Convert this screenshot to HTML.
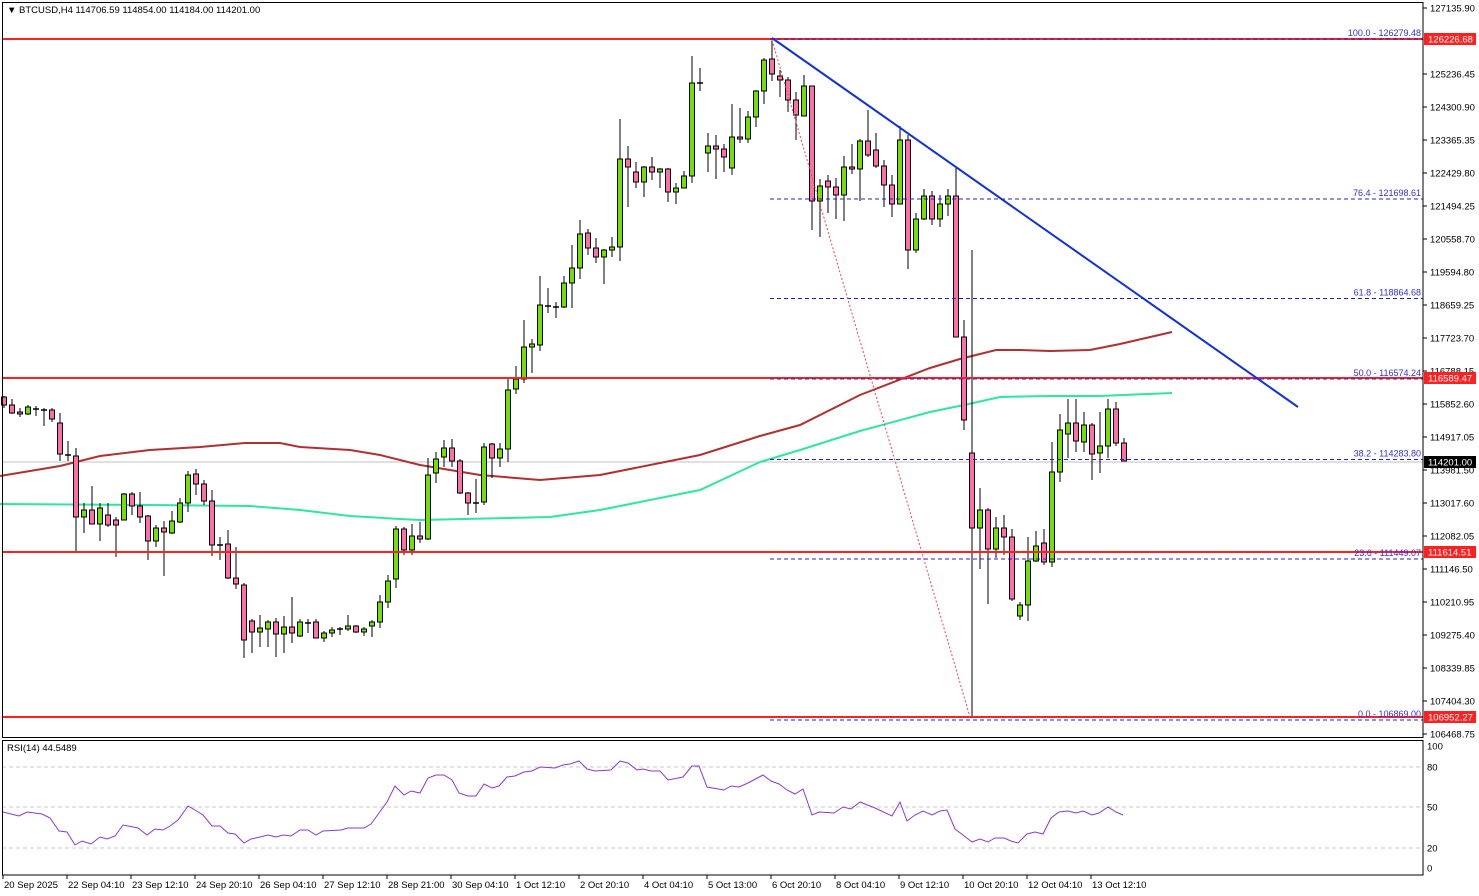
<!DOCTYPE html>
<html><head><meta charset="utf-8"><style>
html,body{margin:0;padding:0;background:#fff;}
svg{display:block;font-family:"Liberation Sans",sans-serif;}
</style></head><body>
<svg id="s" width="1479" height="896" viewBox="0 0 1479 896" xmlns="http://www.w3.org/2000/svg">
<rect width="1479" height="896" fill="#fff"/>
<g id="bg"></g>
<g id="c"></g>
<g id="fg"></g>
</svg>
<script>
const NS="http://www.w3.org/2000/svg";
function el(p,t,a,txt){const e=document.createElementNS(NS,t);for(const k in a)e.setAttribute(k,a[k]);if(txt!==undefined)e.textContent=txt;document.getElementById(p).appendChild(e);return e;}
// candles: [bodyTop, bodyBot, wickTop, wickBot, type]
const C=[
[397,405,396,408,'r'],[405,413,399,414,'r'],[412,414,408,417,'r'],[407,414,405,415,'g'],[409,409,406,416,'d'],
[410,410,408,426,'d'],[410,419,408,422,'r'],[423,454,413,461,'r'],[455,455,441,461,'d'],[456,517,448,552,'r'],
[510,517,503,533,'g'],[510,524,486,524,'r'],[508,524,503,541,'g'],[515,525,503,527,'r'],[520,525,517,557,'r'],
[494,520,493,520,'g'],[494,506,492,515,'r'],[506,517,492,523,'r'],[516,541,515,560,'r'],[528,541,525,547,'g'],
[528,532,521,576,'r'],[521,533,511,534,'g'],[503,522,498,523,'g'],[475,503,471,512,'g'],[474,484,469,495,'r'],
[484,501,480,505,'r'],[501,545,490,556,'r'],[545,545,537,560,'d'],[544,578,530,579,'r'],[578,584,547,589,'r'],
[585,640,583,658,'r'],[621,632,619,653,'r'],[628,632,615,647,'g'],[622,629,620,647,'g'],[622,634,618,657,'r'],
[627,634,616,653,'g'],[627,633,597,643,'r'],[622,636,619,637,'g'],[623,623,619,633,'d'],[622,638,619,638,'r'],
[633,638,631,642,'g'],[630,633,627,637,'g'],[629,629,627,635,'d'],[626,629,615,631,'g'],[626,632,625,633,'r'],
[629,632,627,636,'g'],[622,626,620,637,'g'],[602,622,595,628,'g'],[581,602,575,608,'g'],[529,579,526,588,'g'],
[529,550,527,555,'r'],[536,550,524,555,'g'],[536,539,522,543,'r'],[475,539,458,540,'g'],[459,473,452,483,'g'],
[448,457,440,467,'g'],[448,461,439,467,'r'],[461,493,459,494,'r'],[493,503,492,515,'r'],[503,503,479,513,'d'],
[447,502,443,505,'g'],[444,458,443,478,'r'],[449,458,443,467,'g'],[390,449,379,462,'g'],[379,389,366,394,'g'],
[347,379,320,383,'g'],[344,347,339,373,'g'],[305,345,276,351,'g'],[306,306,288,313,'d'],[307,307,302,318,'d'],
[283,307,276,308,'g'],[268,283,245,308,'g'],[234,268,220,279,'g'],[233,248,229,255,'r'],[248,257,238,263,'r'],
[250,257,249,284,'g'],[247,250,237,257,'g'],[159,247,119,261,'g'],[159,167,146,207,'r'],[172,182,162,188,'r'],
[167,182,166,197,'g'],[167,172,157,180,'r'],[169,172,168,188,'g'],[169,192,168,202,'r'],[188,192,183,204,'g'],
[176,188,171,188,'g'],[83,176,56,183,'g'],[83,83,68,91,'d'],[146,153,133,172,'g'],[146,149,135,179,'r'],
[149,157,144,172,'r'],[137,168,104,175,'g'],[137,139,108,143,'r'],[117,139,111,143,'g'],[91,117,90,127,'g'],
[60,91,58,104,'g'],[59,74,38,81,'r'],[76,80,70,97,'r'],[80,100,77,112,'r'],[100,115,92,140,'r'],
[86,116,75,116,'g'],[86,201,86,230,'r'],[186,201,179,237,'g'],[181,187,175,213,'r'],[187,195,178,219,'r'],
[167,195,156,221,'g'],[167,169,144,174,'r'],[141,169,139,201,'g'],[141,155,110,157,'r'],[150,166,133,168,'r'],
[166,185,160,207,'r'],[185,204,175,217,'r'],[140,204,126,204,'g'],[140,250,135,269,'r'],[219,250,213,253,'g'],
[196,219,189,220,'g'],[196,219,191,225,'r'],[204,219,195,227,'g'],[196,204,189,216,'g'],[196,337,167,337,'r'],
[337,420,320,430,'r'],[453,528,250,717,'r'],[510,528,488,569,'g'],[510,549,508,604,'r'],[528,549,517,558,'g'],
[528,537,515,555,'r'],[537,599,529,601,'r'],[605,616,602,620,'g'],[561,605,537,621,'g'],[546,561,531,562,'g'],
[543,562,529,565,'r'],[472,562,442,567,'g'],[430,472,414,482,'g'],[423,434,399,458,'g'],[423,441,399,452,'r'],
[425,442,412,452,'g'],[425,454,423,480,'r'],[446,453,412,473,'g'],[409,446,399,458,'g'],[409,443,402,446,'r'],
[443,461,438,461,'r']
];
// background lines
el('bg','line',{x1:2,y1:462,x2:1423,y2:462,stroke:'#c0c0c0','stroke-width':1});
// RSI grid
[767,807,848].forEach(y=>el('bg','line',{x1:2,y1:y,x2:1423,y2:y,stroke:'#c8c8c8','stroke-dasharray':'4,3','stroke-width':1}));
// MAs
el('bg','polyline',{points:'0,476 60,466 100,456 150,450 200,447 245,443 280,443 300,447 350,450 380,455 420,465 480,475 540,480 600,475 700,455 760,436 800,425 860,395 930,368 960,359 996,350 1020,350 1050,351 1090,350 1120,344 1172,332',fill:'none',stroke:'#b03030','stroke-width':2});
el('bg','polyline',{points:'0,504 150,505 250,506 300,510 350,516 400,519 420,520 550,517 600,510 700,490 760,462 800,450 860,431 930,412 964,405 1000,397 1050,396 1100,396 1172,393',fill:'none',stroke:'#2ee89a','stroke-width':2});
// candles
C.forEach((c,i)=>{
 const x=4+8*i;
 el('c','line',{x1:x,y1:c[2],x2:x,y2:c[3],stroke:'#000','stroke-width':1});
 if(c[4]==='d'){el('c','line',{x1:x-3,y1:c[0],x2:x+3,y2:c[0],stroke:'#000','stroke-width':1.5});}
 else{el('c','rect',{x:x-2.5,y:c[0],width:5,height:Math.max(1,c[1]-c[0]),fill:c[4]==='g'?'#74e000':'#ff6eaa',stroke:'#000','stroke-width':1});}
});
// red horizontal lines
[39,378,552,717].forEach(y=>el('fg','line',{x1:2,y1:y,x2:1423,y2:y,stroke:'#ff2020','stroke-width':2}));
// fib
const fib=[[39,'100.0 - 126279.48'],[199,'76.4 - 121698.61'],[298.5,'61.8 - 118864.68'],[379,'50.0 - 116574.24'],[459.5,'38.2 - 114283.80'],[559,'23.6 - 111449.07'],[720,'0.0 - 106869.00']];
fib.forEach(f=>{el('fg','line',{x1:770,y1:f[0],x2:1423,y2:f[0],stroke:'#2020d0','stroke-dasharray':'4,3','stroke-width':1});
 el('fg','text',{x:1421,y:f[0]-3,'font-size':9,fill:'#3030e0','text-anchor':'end'},f[1]);});
el('fg','line',{x1:772,y1:40,x2:970,y2:717,stroke:'#ff4040','stroke-dasharray':'2,2','stroke-width':1});
el('fg','line',{x1:772,y1:38,x2:1298,y2:407,stroke:'#1030e0','stroke-width':2});
// RSI
const R='3,812 19,816 27,812 42,814 50,818 59,831 67,832 75,845 82,841 91,844 100,837 107,839 115,836 123,825 138,828 147,835 155,829 163,830 170,826 178,820 188,806 195,810 203,815 212,826 220,826 228,833 235,834 244,843 251,839 260,837 268,835 276,837 283,835 291,836 300,830 308,830 316,835 323,831 341,830 348,828 364,828 371,824 379,813 387,802 395,786 404,795 411,791 420,793 428,778 436,775 444,775 452,780 459,793 468,796 476,796 484,784 492,788 499,786 507,777 515,776 524,772 532,771 540,767 555,768 563,765 570,764 579,761 587,769 595,771 611,770 620,761 628,763 637,770 643,769 651,771 660,771 668,780 683,777 692,766 699,766 707,787 724,790 731,786 739,787 748,783 763,775 771,781 779,784 787,790 795,794 803,789 812,815 819,812 834,813 843,807 851,809 860,802 875,808 892,816 900,802 907,821 915,815 923,811 932,815 940,811 947,810 955,829 963,835 972,842 980,839 988,842 995,838 1004,838 1011,841 1018,843 1027,834 1035,832 1043,834 1051,818 1059,812 1068,811 1076,813 1083,811 1092,815 1099,813 1108,807 1116,812 1123,815';
el('fg','polyline',{points:R,fill:'none',stroke:'#8a3ad0','stroke-width':1});
// frames
el('fg','rect',{x:2.5,y:2.5,width:1420.5,height:735,fill:'none',stroke:'#000','stroke-width':1});
el('fg','rect',{x:2.5,y:740.5,width:1420.5,height:134.5,fill:'none',stroke:'#000','stroke-width':1});
// header
el('fg','text',{x:7,y:13,'font-size':9.5,fill:'#000'},'\u25BC BTCUSD,H4  114706.59 114854.00 114184.00 114201.00');
el('fg','text',{x:7,y:751,'font-size':9.5,fill:'#000'},'RSI(14) 44.5489');
// price axis
const P=[[8,'127135.90'],[74,'125236.45'],[107,'124300.90'],[140,'123365.35'],[173,'122429.80'],[206,'121494.25'],[239,'120558.70'],[272,'119594.80'],[305,'118659.25'],[338,'117723.70'],[371,'116788.15'],[404,'115852.60'],[437,'114917.05'],[470,'113981.50'],[503,'113017.60'],[536,'112082.05'],[569,'111146.50'],[602,'110210.95'],[635,'109275.40'],[668,'108339.85'],[701,'107404.30'],[734,'106468.75']];
P.forEach(p=>{el('fg','line',{x1:1423,y1:p[0],x2:1427,y2:p[0],stroke:'#000'});el('fg','text',{x:1430,y:p[0]+3.5,'font-size':9.5,fill:'#000'},p[1]);});
[[39,'126226.68','#ff2020'],[378,'116589.47','#ff2020'],[462,'114201.00','#000'],[552,'111614.51','#ff2020'],[717,'106952.27','#ff2020']].forEach(b=>{
 el('fg','rect',{x:1424,y:b[0]-6,width:52,height:12,fill:b[2]});
 el('fg','text',{x:1428,y:b[0]+3.5,'font-size':9.5,fill:'#fff'},b[1]);});
[[746,'100'],[767,'80'],[807,'50'],[848,'20'],[868,'0']].forEach(r=>el('fg','text',{x:1427,y:r[0]+3.5,'font-size':9.5,fill:'#000'},r[1]));
// date axis
const D=['20 Sep 2025','22 Sep 04:10','23 Sep 12:10','24 Sep 20:10','26 Sep 04:10','27 Sep 12:10','28 Sep 21:00','30 Sep 04:10','1 Oct 12:10','2 Oct 20:10','4 Oct 04:10','5 Oct 13:00','6 Oct 20:10','8 Oct 04:10','9 Oct 12:10','10 Oct 20:10','12 Oct 04:10','13 Oct 12:10'];
D.forEach((d,i)=>{const x=3+64*i;el('fg','line',{x1:x,y1:875,x2:x,y2:879,stroke:'#000'});el('fg','text',{x:x+1,y:888,'font-size':9.5,fill:'#000'},d);});
</script>
</body></html>
